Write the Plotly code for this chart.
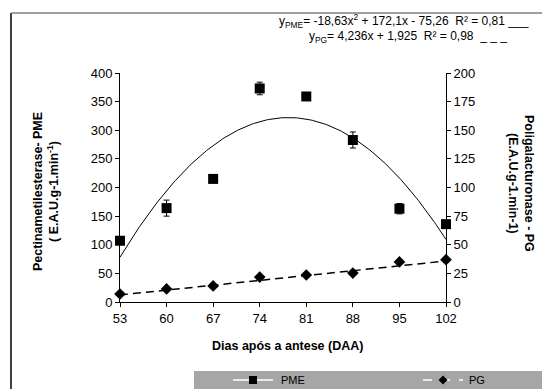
import plotly.graph_objects as go

# Days after anthesis (DAA)
daa = [53, 60, 67, 74, 81, 88, 95, 102]

# Pectin methylesterase activity (left axis) and its error
pme = [107, 164, 215, 373, 359, 283, 163, 136]
pme_err = [5, 14, 5, 11, 5, 14, 9, 6]

# Polygalacturonase activity (right axis)
pg = [7, 11.4, 14, 21.8, 23.6, 25.3, 35, 37]

# Trendline coefficients (x = sample index 1..8)
pme_fit = [-18.63, 172.1, -75.26]
pg_fit = [4.236, 1.925]

x_ticks = [53, 60, 67, 74, 81, 88, 95, 102]

W, H = 542, 389
ML, MR, MT, MB = 120, 96, 73, 87
PW, PH = W - ML - MR, H - MT - MB


def px(x):
    return (x - ML) / PW


def py(y):
    return (H - MB - y) / PH


# smooth trendline curves over the x range
n = 200
xs = [53 + (102 - 53) * i / n for i in range(n + 1)]
idx = [(x - 53) / 7 + 1 for x in xs]
pme_curve = [pme_fit[0] * t * t + pme_fit[1] * t + pme_fit[2] for t in idx]
pg_curve = [pg_fit[0] * t + pg_fit[1] for t in idx]

fig = go.Figure()
fig.add_trace(go.Scatter(x=xs, y=pme_curve, mode="lines",
                         line=dict(color="black", width=1), showlegend=False,
                         hoverinfo="skip"))
fig.add_trace(go.Scatter(x=xs, y=pg_curve, mode="lines", yaxis="y2",
                         line=dict(color="black", width=1.5, dash="8px,5px"),
                         showlegend=False, hoverinfo="skip"))
fig.add_trace(go.Scatter(x=daa, y=pme, mode="markers", name="PME",
                         marker=dict(symbol="square", size=10, color="black"),
                         error_y=dict(type="data", array=pme_err, color="black",
                                      thickness=1, width=3),
                         cliponaxis=False, showlegend=False))
fig.add_trace(go.Scatter(x=daa, y=pg, mode="markers", name="PG", yaxis="y2",
                         marker=dict(symbol="diamond", size=9, color="black"),
                         cliponaxis=False, showlegend=False))

font = dict(family="Liberation Sans, Arial, sans-serif", size=13, color="black")

fig.update_layout(
    width=W, height=H,
    margin=dict(l=ML, r=MR, t=MT, b=MB),
    paper_bgcolor="white", plot_bgcolor="white",
    font=font,
    xaxis=dict(range=[53, 102], tickvals=x_ticks, ticks="outside", ticklen=4,
               tickcolor="black", showline=True, linecolor="black", linewidth=1,
               showgrid=False, zeroline=False),
    yaxis=dict(range=[0, 400], dtick=50, ticks="outside", ticklen=4,
               tickcolor="black", showline=True, linecolor="black", linewidth=1,
               showgrid=False, zeroline=False),
    yaxis2=dict(range=[0, 200], dtick=25, overlaying="y", side="right",
                ticks="outside", ticklen=4, tickcolor="black", showline=True,
                linecolor="black", linewidth=1, showgrid=False, zeroline=False),
)

shapes = [
    # chart frame (left and top edges)
    dict(type="line", xref="paper", yref="paper", x0=px(11), x1=px(11),
         y0=py(13), y1=py(392), line=dict(color="black", width=1.5)),
    dict(type="line", xref="paper", yref="paper", x0=px(11), x1=px(545),
         y0=py(13), y1=py(13), line=dict(color="#7f7f7f", width=1.5)),
    # legend band
    dict(type="rect", xref="paper", yref="paper", x0=px(194), x1=px(545),
         y0=py(392), y1=py(371), fillcolor="#a6a6a6", line=dict(width=0)),
    dict(type="line", xref="paper", yref="paper", x0=px(233), x1=px(273),
         y0=py(380), y1=py(380), line=dict(color="white", width=1.5)),
    dict(type="rect", xref="paper", yref="paper", x0=px(249), x1=px(257),
         y0=py(384), y1=py(376), fillcolor="black", line=dict(width=0)),
    dict(type="line", xref="paper", yref="paper", x0=px(423), x1=px(463),
         y0=py(380), y1=py(380), line=dict(color="white", width=1.5, dash="dash")),
    dict(type="path", xref="paper", yref="paper",
         path=f"M {px(443)} {py(375.5)} L {px(447.5)} {py(380)} L {px(443)} {py(384.5)} L {px(438.5)} {py(380)} Z",
         fillcolor="black", line=dict(width=0)),
]

eq_font = dict(family="Liberation Sans, Arial, sans-serif", size=12, color="black")
small = dict(family="Liberation Sans, Arial, sans-serif", size=11, color="black")
bold = dict(family="Liberation Sans, Arial, sans-serif", size=12.5, color="black")

annotations = [
    dict(text="y<sub>PME</sub>= -18,63x<sup>2</sup> + 172,1x - 75,26  R² = 0,81 ___",
         xref="paper", yref="paper", x=px(277), y=py(21), xanchor="left",
         yanchor="middle", showarrow=False, font=eq_font),
    dict(text="y<sub>PG</sub>= 4,236x + 1,925  R² = 0,98  _ _ _",
         xref="paper", yref="paper", x=px(307), y=py(37), xanchor="left",
         yanchor="middle", showarrow=False, font=eq_font),
    dict(text="<b>Pectinametilesterase- PME</b><br><b>( E.A.U.g-1.min<sup>-1</sup>)</b>",
         xref="paper", yref="paper", x=px(46), y=py(192), textangle=-90,
         xanchor="center", yanchor="middle", showarrow=False, font=bold),
    dict(text="<b>Poligalacturonase - PG</b><br><b>(E.A.U.g-1.min-1)</b>",
         xref="paper", yref="paper", x=px(521), y=py(183), textangle=90,
         xanchor="center", yanchor="middle", showarrow=False, font=bold),
    dict(text="<b>Dias após a antese (DAA)</b>",
         xref="paper", yref="paper", x=px(287), y=py(346),
         xanchor="center", yanchor="middle", showarrow=False, font=bold),
    dict(text="PME", xref="paper", yref="paper", x=px(279), y=py(380),
         xanchor="left", yanchor="middle", showarrow=False, font=small),
    dict(text="PG", xref="paper", yref="paper", x=px(467), y=py(380),
         xanchor="left", yanchor="middle", showarrow=False, font=small),
]

fig.update_layout(shapes=shapes, annotations=annotations)
fig.write_html("out.html")
